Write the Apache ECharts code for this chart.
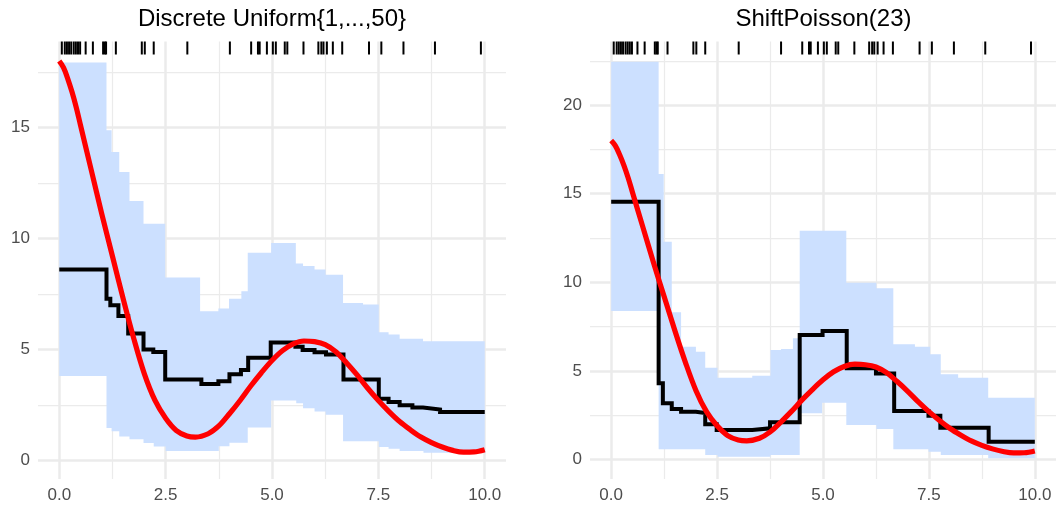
<!DOCTYPE html>
<html><head><meta charset="utf-8">
<script src="https://cdn.jsdelivr.net/npm/echarts@6/dist/echarts.min.js"></script>
<style>html,body{margin:0;padding:0;background:#fff}#c{width:1056px;height:506px}</style>
</head><body><div id="c"></div>
<script>
// ---- tick values ----
const xMajorTicks = [0, 2.5, 5, 7.5, 10];
const xMinorTicks = [1.25, 3.75, 6.25, 8.75];
const leftYMajorTicks = [0, 5, 10, 15];
const leftYMinorTicks = [2.5, 7.5, 12.5, 17.5];
const rightYMajorTicks = [0, 5, 10, 15, 20];
const rightYMinorTicks = [2.5, 7.5, 12.5, 17.5, 22.5];

// ---- titles ----
const leftTitle = 'Discrete Uniform{1,...,50}';
const rightTitle = 'ShiftPoisson(23)';

// ---- observed design points (rug) ----
const rugX = [0.06, 0.13, 0.18, 0.23, 0.28, 0.34, 0.39, 0.44, 0.49, 0.62, 0.79, 1.03, 1.07, 1.10, 1.33,
  1.94, 2.01, 2.22, 3.01, 4.01, 4.51, 4.67, 4.71, 4.88, 5.02, 5.09, 5.30, 5.36, 5.74, 6.09,
  6.16, 6.21, 6.29, 6.43, 6.65, 7.28, 7.57, 8.09, 8.83, 9.91];

// ---- true regression function (red) ----
const trueX = [0, 0.1, 0.2, 0.3, 0.4, 0.5, 0.75, 1.0, 1.25, 1.5, 1.75, 2.0, 2.25, 2.5, 2.75, 3.0, 3.2,
  3.5, 3.75, 4.0, 4.25, 4.5, 4.75, 5.0, 5.25, 5.5, 5.75, 6.0, 6.25, 6.5, 6.75, 7.0, 7.25, 7.5,
  7.75, 8.0, 8.25, 8.5, 8.75, 9.0, 9.25, 9.5, 9.75, 10.0];
const trueY = [18.0, 17.7, 17.2, 16.6, 15.9, 15.1, 13.1, 11.1, 9.2, 7.3, 5.5, 3.9, 2.7, 1.9, 1.35, 1.1, 1.05,
  1.2, 1.55, 2.1, 2.7, 3.35, 3.95, 4.5, 4.95, 5.25, 5.38, 5.35, 5.22, 4.9, 4.4, 3.85, 3.25, 2.7,
  2.2, 1.75, 1.38, 1.05, 0.8, 0.6, 0.45, 0.37, 0.38, 0.48];

// ---- left panel: Discrete Uniform ----
const leftUpperX = [0, 1.11, 1.23, 1.41, 1.65, 1.98, 2.49, 3.31, 3.74, 3.99, 4.28, 4.43, 4.98, 5.56, 5.73, 6.0, 6.26, 6.67, 7.14, 7.51, 7.74, 8.0, 8.55];
const leftUpperY = [17.93, 14.88, 13.9, 13.0, 11.69, 10.67, 8.24, 6.72, 6.84, 7.29, 7.62, 9.36, 9.80, 8.87, 8.76, 8.6, 8.37, 7.09, 7.02, 5.78, 5.67, 5.48, 5.37];
const leftLowerX = [0, 1.11, 1.23, 1.41, 1.65, 1.98, 2.22, 2.5, 3.75, 4.0, 4.43, 4.98, 5.57, 5.73, 6.0, 6.26, 6.67, 7.51, 7.74, 8.0, 8.56];
const leftLowerY = [3.80, 1.46, 1.31, 1.08, 0.95, 0.78, 0.63, 0.42, 0.64, 0.79, 1.48, 2.70, 2.58, 2.35, 2.2, 2.06, 0.86, 0.60, 0.52, 0.42, 0.34];
const leftEstX = [0, 1.11, 1.2, 1.39, 1.62, 1.98, 2.21, 2.49, 3.34, 3.74, 4.0, 4.27, 4.44, 4.97, 5.55, 5.72, 6.0, 6.27, 6.68, 7.51, 7.74, 8.0, 8.3, 8.55, 8.95];
const leftEstY = [8.6, 7.29, 6.99, 6.51, 5.72, 5.0, 4.89, 3.64, 3.44, 3.57, 3.88, 4.07, 4.63, 5.31, 5.12, 4.98, 4.87, 4.77, 3.64, 2.78, 2.63, 2.48, 2.38, 2.29, 2.18];

// ---- right panel: ShiftPoisson(23) ----
const rightUpperX = [0, 1.12, 1.24, 1.43, 1.65, 2.0, 2.22, 2.51, 3.33, 3.76, 4.01, 4.29, 4.45, 5.55, 6.26, 6.66, 7.17, 7.53, 7.78, 8.19, 8.9];
const rightUpperY = [22.45, 16.11, 12.29, 8.31, 6.37, 6.08, 5.18, 4.62, 4.73, 6.18, 6.24, 6.84, 12.91, 9.98, 9.66, 6.50, 6.37, 5.94, 4.81, 4.62, 3.49];
const rightLowerX = [0, 1.12, 2.22, 2.51, 3.76, 4.45, 4.98, 5.55, 6.26, 6.66, 7.49, 7.78, 8.9];
const rightLowerY = [8.38, 0.58, 0.25, 0.16, 0.25, 2.61, 3.21, 1.95, 1.72, 0.58, 0.44, 0.25, 0.07];
const rightEstX = [0, 1.12, 1.22, 1.43, 1.65, 2.0, 2.22, 2.49, 3.33, 3.75, 4.45, 4.99, 5.56, 6.25, 6.68, 7.49, 7.77, 8.91];
const rightEstY = [14.55, 4.30, 3.17, 2.85, 2.70, 2.63, 1.99, 1.66, 1.76, 2.10, 7.03, 7.25, 5.15, 4.86, 2.74, 2.47, 1.79, 1.0];

const X_END = 10;
const FONT = '"Liberation Sans", Arial, Helvetica, sans-serif';
const GRID = '#EBEBEB';
const LABEL = '#4D4D4D';

const chart = echarts.init(document.getElementById('c'), null, {renderer: 'canvas'});

function stepData(xs, ys) {
  const d = xs.map((x, i) => [x, ys[i]]);
  d.push([X_END, ys[ys.length - 1]]);
  return d;
}

function bandSeries(ux, uy, lx, ly, axis) {
  return {
    type: 'custom', xAxisIndex: axis, yAxisIndex: axis, z: 1, silent: true,
    data: [[0, 0]], encode: {x: 0, y: 1},
    renderItem: function (params, api) {
      const pts = [];
      for (let i = 0; i < ux.length; i++) {
        const x1 = i + 1 < ux.length ? ux[i + 1] : X_END;
        pts.push(api.coord([ux[i], uy[i]]), api.coord([x1, uy[i]]));
      }
      for (let i = lx.length - 1; i >= 0; i--) {
        const x1 = i + 1 < lx.length ? lx[i + 1] : X_END;
        pts.push(api.coord([x1, ly[i]]), api.coord([lx[i], ly[i]]));
      }
      return {type: 'polygon', shape: {points: pts}, style: {fill: '#CCE0FF', stroke: null}};
    }
  };
}

function rugSeries(axis) {
  return {
    type: 'custom', xAxisIndex: axis, yAxisIndex: axis, z: 5, silent: true,
    data: rugX.map(v => [v, 0]), encode: {x: 0, y: 1},
    renderItem: function (params, api) {
      const x = api.coord([api.value(0), 0])[0];
      const top = params.coordSys.y;
      return {type: 'line', shape: {x1: x, y1: top, x2: x, y2: top + 13}, style: {stroke: '#000', lineWidth: 2}};
    }
  };
}

function xAxes(g) {
  return [
    {type: 'value', gridIndex: g, min: -0.5, max: 10.5, position: 'bottom',
      axisLine: {show: false}, axisTick: {show: false, customValues: xMajorTicks},
      axisLabel: {customValues: xMajorTicks, formatter: v => Number(v).toFixed(1), color: LABEL, fontSize: 17, fontFamily: FONT, margin: 8},
      splitLine: {show: true, lineStyle: {color: GRID, width: 2.5}}},
    {type: 'value', gridIndex: g, min: -0.5, max: 10.5, position: 'top',
      axisLine: {show: false}, axisTick: {show: false, customValues: xMinorTicks},
      axisLabel: {show: false},
      splitLine: {show: true, lineStyle: {color: GRID, width: 1.25}}}
  ];
}

function yAxes(g, mn, mx, major, minor) {
  return [
    {type: 'value', gridIndex: g, min: mn, max: mx, position: 'left',
      axisLine: {show: false}, axisTick: {show: false, customValues: major},
      axisLabel: {customValues: major, formatter: v => String(v), color: LABEL, fontSize: 17, fontFamily: FONT, margin: 8},
      splitLine: {show: true, lineStyle: {color: GRID, width: 2.5}}},
    {type: 'value', gridIndex: g, min: mn, max: mx, position: 'right',
      axisLine: {show: false}, axisTick: {show: false, customValues: minor},
      axisLabel: {show: false},
      splitLine: {show: true, lineStyle: {color: GRID, width: 1.25}}}
  ];
}

function estSeries(xs, ys, axis) {
  return {type: 'line', xAxisIndex: axis, yAxisIndex: axis, z: 3, step: 'end', silent: true,
    showSymbol: false, symbol: 'none', data: stepData(xs, ys),
    lineStyle: {color: '#000', width: 4, join: 'miter', cap: 'butt'}};
}

function trueSeries(axis) {
  return {type: 'line', xAxisIndex: axis, yAxisIndex: axis, z: 4, smooth: 0.35, silent: true,
    showSymbol: false, symbol: 'none', data: trueX.map((x, i) => [x, trueY[i]]),
    lineStyle: {color: '#FF0000', width: 5.2, cap: 'butt', join: 'round'}};
}

const option = {
  animation: false,
  backgroundColor: '#fff',
  grid: [
    {left: 38, top: 41.5, width: 468, height: 437.5},
    {left: 590, top: 41.5, width: 467, height: 437.5}
  ],
  xAxis: [...xAxes(0), ...xAxes(1)],
  yAxis: [...yAxes(0, -0.84, 18.88, leftYMajorTicks, leftYMinorTicks),
          ...yAxes(1, -1.10, 23.59, rightYMajorTicks, rightYMinorTicks)],
  graphic: [
    {type: 'text', x: 272, y: 19, style: {text: leftTitle, align: 'center', verticalAlign: 'middle', font: '24px ' + FONT, fill: '#000'}},
    {type: 'text', x: 823.5, y: 19, style: {text: rightTitle, align: 'center', verticalAlign: 'middle', font: '24px ' + FONT, fill: '#000'}}
  ],
  series: [
    bandSeries(leftUpperX, leftUpperY, leftLowerX, leftLowerY, 0),
    estSeries(leftEstX, leftEstY, 0),
    trueSeries(0),
    rugSeries(0),
    bandSeries(rightUpperX, rightUpperY, rightLowerX, rightLowerY, 2),
    estSeries(rightEstX, rightEstY, 2),
    trueSeries(2),
    rugSeries(2)
  ]
};
chart.setOption(option);
</script>
</body></html>
